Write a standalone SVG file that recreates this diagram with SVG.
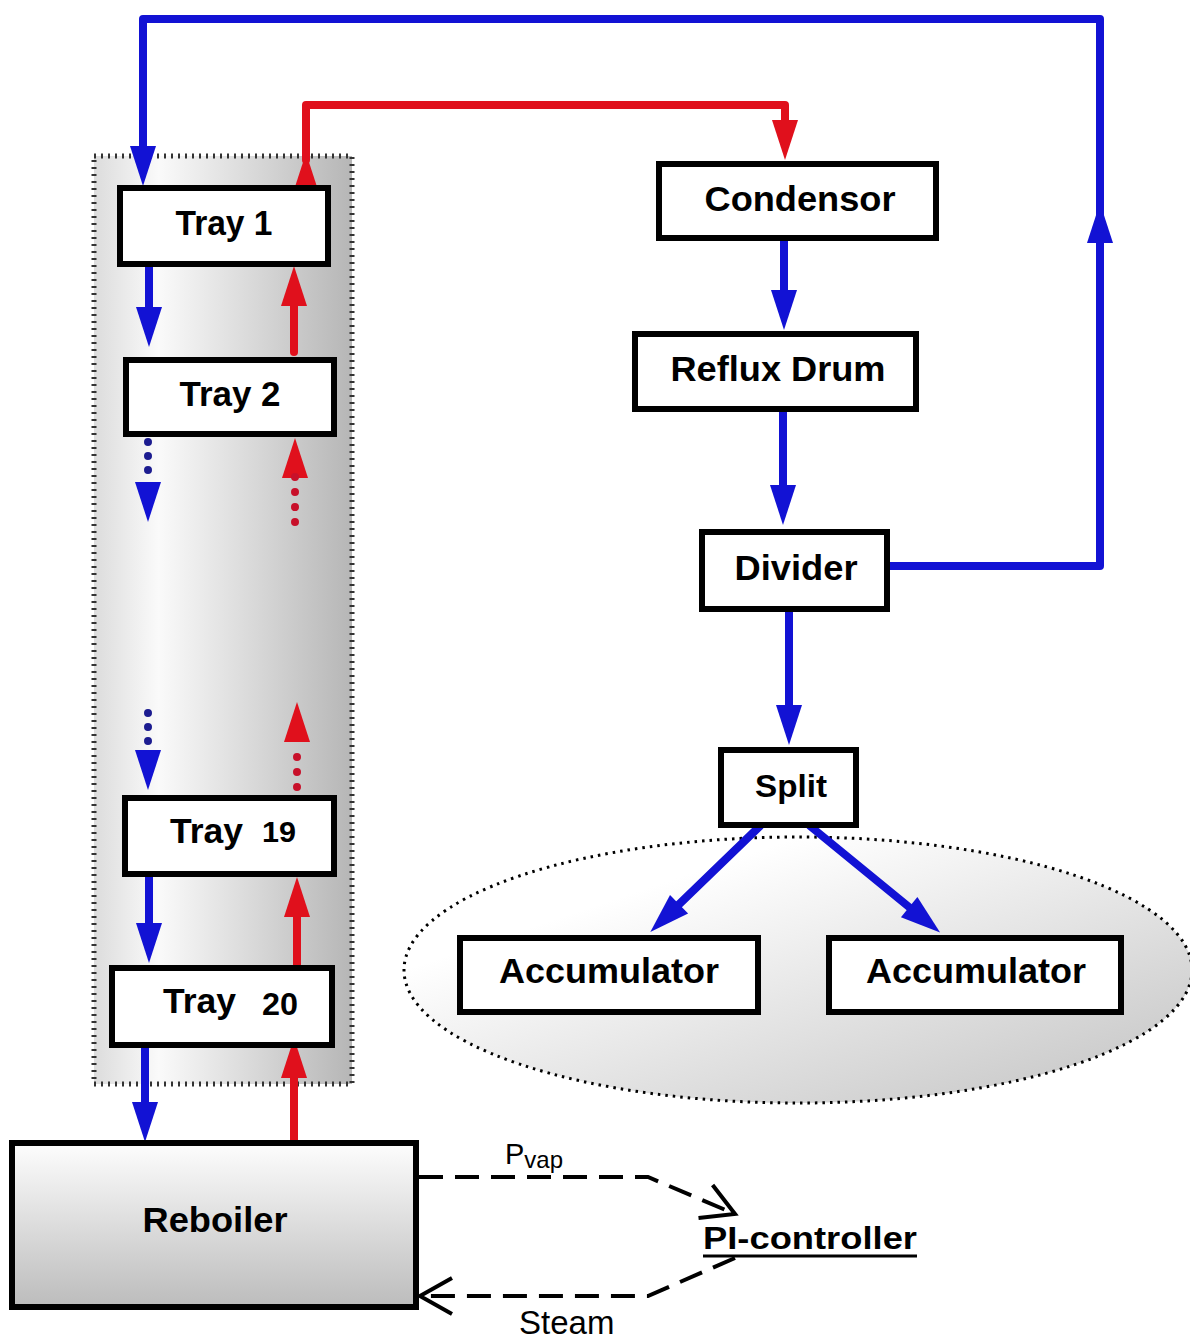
<svg xmlns="http://www.w3.org/2000/svg" width="1190" height="1341" viewBox="0 0 1190 1341">
<style>
.box{fill:#fff;stroke:#000;stroke-width:6}
.lbl{font-family:"Liberation Sans",Arial,sans-serif;font-weight:bold;font-size:35px;fill:#000;text-anchor:middle}
.blue{fill:none;stroke:#1212d4;stroke-width:8;stroke-linejoin:round;stroke-linecap:round}
.red{fill:none;stroke:#e0101c;stroke-width:8;stroke-linejoin:round;stroke-linecap:round}
.bdots{fill:none;stroke:#1c1c90;stroke-width:8;stroke-linecap:round;stroke-dasharray:0.1 13.9}
.rdots{fill:none;stroke:#c8102a;stroke-width:8;stroke-linecap:round;stroke-dasharray:0.1 14.9}
.dash{fill:none;stroke:#000;stroke-width:4;stroke-dasharray:24 12}
.plain{font-family:"Liberation Sans",Arial,sans-serif;fill:#000}
</style>
<defs>
<linearGradient id="gCol" x1="0" y1="0" x2="1" y2="0">
<stop offset="0" stop-color="#dcdcdc"/>
<stop offset="0.25" stop-color="#fafafa"/>
<stop offset="1" stop-color="#b6b6b6"/>
</linearGradient>
<linearGradient id="gReb" x1="0" y1="0" x2="0" y2="1">
<stop offset="0" stop-color="#fdfdfd"/>
<stop offset="1" stop-color="#bcbcbc"/>
</linearGradient>
<linearGradient id="gEll" x1="0" y1="0" x2="1" y2="1">
<stop offset="0.25" stop-color="#ffffff"/>
<stop offset="1" stop-color="#c2c2c2"/>
</linearGradient>
<marker id="ahB" markerUnits="userSpaceOnUse" markerWidth="40" markerHeight="26" refX="14" refY="13" orient="auto" overflow="visible">
<path d="M0,0 L40,13 L0,26 z" fill="#1212d4"/>
</marker>
<marker id="ahR" markerUnits="userSpaceOnUse" markerWidth="40" markerHeight="26" refX="14" refY="13" orient="auto" overflow="visible">
<path d="M0,0 L40,13 L0,26 z" fill="#e0101c"/>
</marker>
<marker id="ahO" markerUnits="userSpaceOnUse" markerWidth="36" markerHeight="36" refX="32" refY="18" orient="auto" overflow="visible">
<path d="M0,0 L32,18 L0,36" fill="none" stroke="#000" stroke-width="4"/>
</marker>
</defs>
<rect width="1190" height="1341" fill="#fff"/>

<g id="column">
<rect x="94" y="156" width="258" height="928" fill="url(#gCol)" stroke="#333" stroke-width="5" stroke-dasharray="2 5"/>
</g>
<g id="accumulatorGroup">
<ellipse cx="798" cy="970" rx="394" ry="133" fill="url(#gEll)" stroke="#000" stroke-width="3" stroke-dasharray="2.5 5"/>
</g>

<g id="connectors">
<path class="blue" d="M888 566 H1100 V229" marker-end="url(#ahB)"/>
<path class="blue" d="M1100 229 V19 H143 V160" marker-end="url(#ahB)"/>
<path class="red" d="M306 186 V179" marker-end="url(#ahR)"/>
<path class="red" d="M306 160 V105 H785 V134" marker-end="url(#ahR)"/>
<path class="blue" d="M149 266 V321" marker-end="url(#ahB)"/>
<path class="red" d="M294 352 V292" marker-end="url(#ahR)"/>
<path class="bdots" d="M148 442 V472"/>
<path class="blue" d="M148 486 V496" marker-end="url(#ahB)"/>
<path class="red" d="M295 470 V464" marker-end="url(#ahR)"/>
<path class="rdots" d="M295 477 V524"/>
<path class="bdots" d="M148 713 V743"/>
<path class="blue" d="M148 756 V764" marker-end="url(#ahB)"/>
<path class="red" d="M297 734 V728" marker-end="url(#ahR)"/>
<path class="rdots" d="M297 757 V789"/>
<path class="blue" d="M149 875 V937" marker-end="url(#ahB)"/>
<path class="red" d="M297 970 V903" marker-end="url(#ahR)"/>
<path class="blue" d="M145 1047 V1116" marker-end="url(#ahB)"/>
<path class="red" d="M294 1142 V1064" marker-end="url(#ahR)"/>
<path class="blue" d="M784 239 V304" marker-end="url(#ahB)"/>
<path class="blue" d="M783 410 V499" marker-end="url(#ahB)"/>
<path class="blue" d="M789 610 V719" marker-end="url(#ahB)"/>
<path class="blue" d="M760 826 L669 914" marker-end="url(#ahB)"/>
<path class="blue" d="M810 826 L920 916" marker-end="url(#ahB)"/>
<path class="dash" d="M419 1177 H648 L735 1214" marker-end="url(#ahO)"/>
<path class="dash" d="M735 1258 L648 1296 H420" marker-end="url(#ahO)"/>
</g>

<g id="tray1">
<rect class="box" x="120" y="188" width="208" height="76"/>
<text class="lbl" x="224" y="235" textLength="97" lengthAdjust="spacingAndGlyphs">Tray 1</text>
</g>
<g id="tray2">
<rect class="box" x="126" y="360" width="208" height="74"/>
<text class="lbl" x="230" y="406" textLength="101" lengthAdjust="spacingAndGlyphs">Tray 2</text>
</g>
<g id="tray19">
<rect class="box" x="125" y="798" width="209" height="76"/>
<text class="lbl" x="170" y="843" style="text-anchor:start" textLength="73" lengthAdjust="spacingAndGlyphs">Tray</text>
<text class="lbl" x="262" y="842" style="text-anchor:start;font-size:30px" textLength="34" lengthAdjust="spacingAndGlyphs">19</text>
</g>
<g id="tray20">
<rect class="box" x="112" y="968" width="220" height="77"/>
<text class="lbl" x="163" y="1013" style="text-anchor:start" textLength="73" lengthAdjust="spacingAndGlyphs">Tray</text>
<text class="lbl" x="262" y="1015" style="text-anchor:start;font-size:31px" textLength="36" lengthAdjust="spacingAndGlyphs">20</text>
</g>
<g id="reboiler">
<rect x="12" y="1143" width="404" height="164" fill="url(#gReb)" stroke="#000" stroke-width="6"/>
<text class="lbl" x="215" y="1232" textLength="145" lengthAdjust="spacingAndGlyphs">Reboiler</text>
</g>
<g id="condensor">
<rect class="box" x="659" y="164" width="277" height="74"/>
<text class="lbl" x="800" y="211" textLength="191" lengthAdjust="spacingAndGlyphs">Condensor</text>
</g>
<g id="refluxDrum">
<rect class="box" x="635" y="334" width="281" height="75"/>
<text class="lbl" x="778" y="381" textLength="215" lengthAdjust="spacingAndGlyphs">Reflux Drum</text>
</g>
<g id="divider">
<rect class="box" x="702" y="532" width="185" height="77"/>
<text class="lbl" x="796" y="580" textLength="123" lengthAdjust="spacingAndGlyphs">Divider</text>
</g>
<g id="split">
<rect class="box" x="721" y="750" width="135" height="75"/>
<text class="lbl" x="791" y="797" style="font-size:32px" textLength="72" lengthAdjust="spacingAndGlyphs">Split</text>
</g>
<g id="accumulator1">
<rect class="box" x="460" y="938" width="298" height="74"/>
<text class="lbl" x="609" y="983" textLength="220" lengthAdjust="spacingAndGlyphs">Accumulator</text>
</g>
<g id="accumulator2">
<rect class="box" x="829" y="938" width="292" height="74"/>
<text class="lbl" x="976" y="983" textLength="220" lengthAdjust="spacingAndGlyphs">Accumulator</text>
</g>
<g id="piController">
<text class="plain" x="703" y="1249" font-weight="bold" font-size="31" textLength="214" lengthAdjust="spacingAndGlyphs">PI-controller</text>
<line x1="703" y1="1256" x2="917" y2="1256" stroke="#000" stroke-width="3"/>
</g>
<g id="labels">
<text class="plain" x="505" y="1164" font-size="29">P<tspan font-size="24" dy="4">vap</tspan></text>
<text class="plain" x="519" y="1334" font-size="33">Steam</text>
</g>
</svg>
